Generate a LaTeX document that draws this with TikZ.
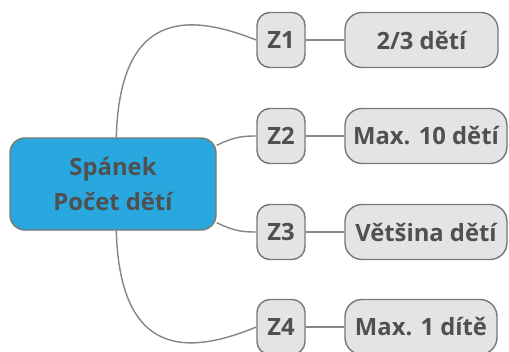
\documentclass[tikz,border=0pt]{standalone}
\usepackage{fontspec}
\setmainfont{Open Sans}
\usetikzlibrary{backgrounds}
\definecolor{txt}{HTML}{505050}
\definecolor{edge}{HTML}{777777}
\definecolor{link}{HTML}{858585}
\definecolor{cblue}{HTML}{29A8E0}
\definecolor{lgray}{HTML}{E4E4E4}
\tikzset{
  base/.style={draw=edge, line width=1.4pt, text=txt, font=\bfseries\fontsize{23.8}{35}\selectfont, inner sep=0pt, align=center},
  central/.style={base, fill=cblue, rounded corners=15pt, minimum width=206pt, minimum height=92pt},
  zbox/.style={base, fill=lgray, rounded corners=13pt, minimum width=48pt, minimum height=55pt},
  leaf/.style={base, fill=lgray, rounded corners=17pt, minimum height=55pt},
  conn/.style={draw=link, line width=1.4pt}
}
\begin{document}
\begin{tikzpicture}[x=1pt, y=-1pt]
\useasboundingbox (0,0) rectangle (509,351);
\node[central] (c) at (113,184) {Spánek\\Počet dětí};
\node[zbox] (z1) at (281,40) {Z1};
\node[zbox] (z2) at (281,136) {Z2};
\node[zbox] (z3) at (281,232) {Z3};
\node[zbox] (z4) at (281,327) {Z4};
\node[leaf, minimum width=153pt] (l1) at (421.5,40) {2/3 dětí};
\node[leaf, minimum width=162pt] (l2) at (426,136) {Max. 10 dětí};
\node[leaf, minimum width=162pt] (l3) at (426,232) {Většina dětí};
\node[leaf, minimum width=152pt] (l4) at (421,327) {Max. 1 dítě};
\begin{scope}[on background layer]
\draw[conn] ([xshift=107pt]c.north west) .. controls (120,0) and (200,18) .. (z1.west);
\draw[conn] ([yshift=-8pt]c.north east) .. controls (234,137) and (242,136) .. (z2.west);
\draw[conn] ([yshift=8pt]c.south east) .. controls (234,231) and (242,232) .. (z3.west);
\draw[conn] ([xshift=107pt]c.south west) .. controls (120,368) and (200,350) .. (z4.west);
\draw[conn] (z1) -- (l1);
\draw[conn] (z2) -- (l2);
\draw[conn] (z3) -- (l3);
\draw[conn] (z4) -- (l4);
\end{scope}
\end{tikzpicture}
\end{document}
